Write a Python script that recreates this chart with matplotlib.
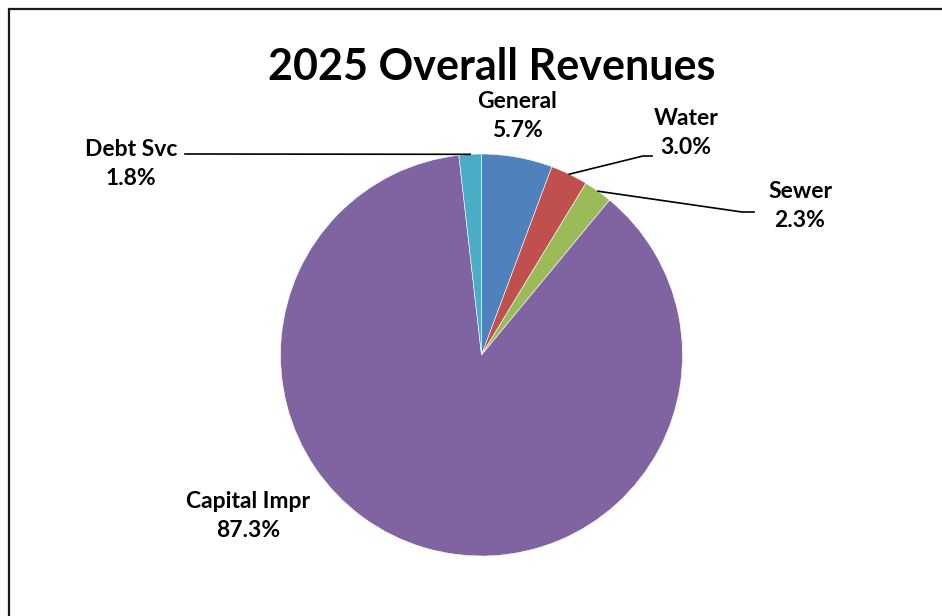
import numpy as np
import matplotlib
matplotlib.use("Agg")
import matplotlib.pyplot as plt
from matplotlib.patches import Rectangle

# revenue shares (%) in clockwise order from 12 o'clock
categories = ["General", "Water", "Sewer", "Capital Impr", "Debt Svc"]
shares = [5.7, 3.0, 2.3, 87.3, 1.8]
colors = ["#4F81BD", "#C0504D", "#9BBB59", "#8064A2", "#4BACC6"]
title = "2025 Overall Revenues"

W, H = 942, 616
CX, CY, R = 481.5, 355, 201   # pie centre / radius in pixels

# label centres and leader elbows in pixels (None = no leader)
label_xy = [(517, 116), (686, 133), (800, 206), (248, 516), (131, 164)]
elbows = [None, [(643, 156), (652, 156)], [(742, 212), (754, 212)],
          None, [(185, 154)]]


def to_data(px, py):
    return (px - CX) / R, (CY - py) / R


plt.rcParams["font.family"] = ["Lato", "DejaVu Sans"]
fig = plt.figure(figsize=(W / 100, H / 100), dpi=100)

# outer chart frame, running off the right and bottom edges
fig.patches.append(Rectangle((9 / W, -0.1), 1.1, 1 - 9 / H + 0.1,
                             transform=fig.transFigure, fill=False,
                             edgecolor="#1a1a1a", linewidth=1.6))

ax = fig.add_axes([(CX - R) / W, (H - CY - R) / H, 2 * R / W, 2 * R / H])
wedges, _ = ax.pie(shares, colors=colors, startangle=90, counterclock=False,
                   radius=1, wedgeprops=dict(edgecolor="white", linewidth=0.4))
ax.set_xlim(-1, 1)
ax.set_ylim(-1, 1)
ax.axis("off")

for name, val, w, (lx, ly), elb in zip(categories, shares, wedges, label_xy, elbows):
    tx, ty = to_data(lx, ly)
    ax.text(tx, ty, f"{name}\n{val:.1f}%", ha="center", va="center",
            fontsize=16.5, fontweight="bold", linespacing=1.5, clip_on=False)
    if elb is not None:
        mid = np.deg2rad((w.theta1 + w.theta2) / 2)
        pts = [(np.cos(mid), np.sin(mid))] + [to_data(*p) for p in elb]
        xs, ys = zip(*pts)
        ax.plot(xs, ys, color="black", linewidth=1.2, clip_on=False)

fig.text(492 / W, 1 - 67 / H, title, ha="center", va="center",
         fontsize=31, fontweight="bold")

fig.savefig("out.png", dpi=100)
